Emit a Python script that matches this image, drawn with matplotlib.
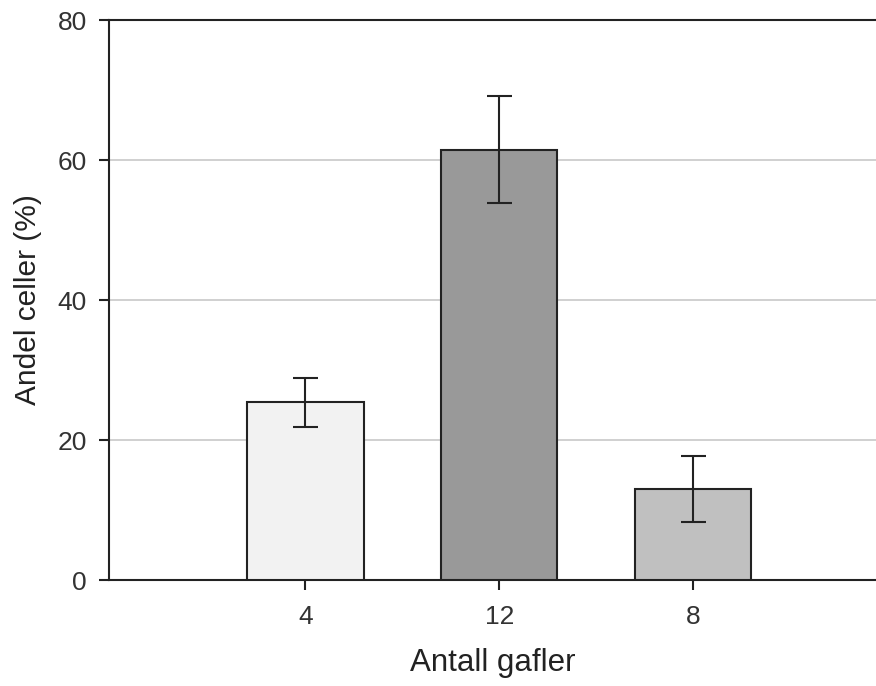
import matplotlib
matplotlib.use("Agg")
import matplotlib.pyplot as plt

plt.rcParams["font.family"] = ["Liberation Sans", "DejaVu Sans"]

categories = ["4", "12", "8"]
values = [25.4, 61.5, 13.0]
errors = [3.5, 7.6, 4.7]
bar_colors = ["#f2f2f2", "#999999", "#c0c0c0"]

fig = plt.figure(figsize=(8.76, 6.86), dpi=100)
ax = fig.add_axes([109 / 876, 106 / 686, 767 / 876, 560 / 686])

x = range(1, len(categories) + 1)
ax.bar(x, values, width=0.6, color=bar_colors, edgecolor="#222222",
       linewidth=1.5, zorder=3)
ax.errorbar(x, values, yerr=errors, fmt="none", ecolor="#222222",
            elinewidth=1.5, capsize=9, capthick=1.5, zorder=4)

ax.set_xlim(-0.014, 3.944)
ax.set_ylim(0, 80)
ax.set_yticks([0, 20, 40, 60, 80])
ax.set_xticks(list(x))
ax.set_xticklabels(categories)
ax.yaxis.grid(True, color="#c8c8c8", linewidth=1.2, zorder=0)
ax.set_axisbelow(True)

ax.spines["right"].set_visible(False)
for s in ["left", "bottom", "top"]:
    ax.spines[s].set_color("#222222")
    ax.spines[s].set_linewidth(1.5)

ax.tick_params(axis="both", direction="out", length=7, width=1.5,
               color="#222222", labelsize=19, labelcolor="#333333")
ax.tick_params(axis="x", pad=11)
ax.tick_params(axis="y", pad=9)
ax.set_xlabel("Antall gafler", fontsize=22.5, color="#222222", labelpad=14)
ax.set_ylabel("Andel celler (%)", fontsize=21.5, color="#222222", labelpad=11)

fig.savefig("out.png", dpi=100)
